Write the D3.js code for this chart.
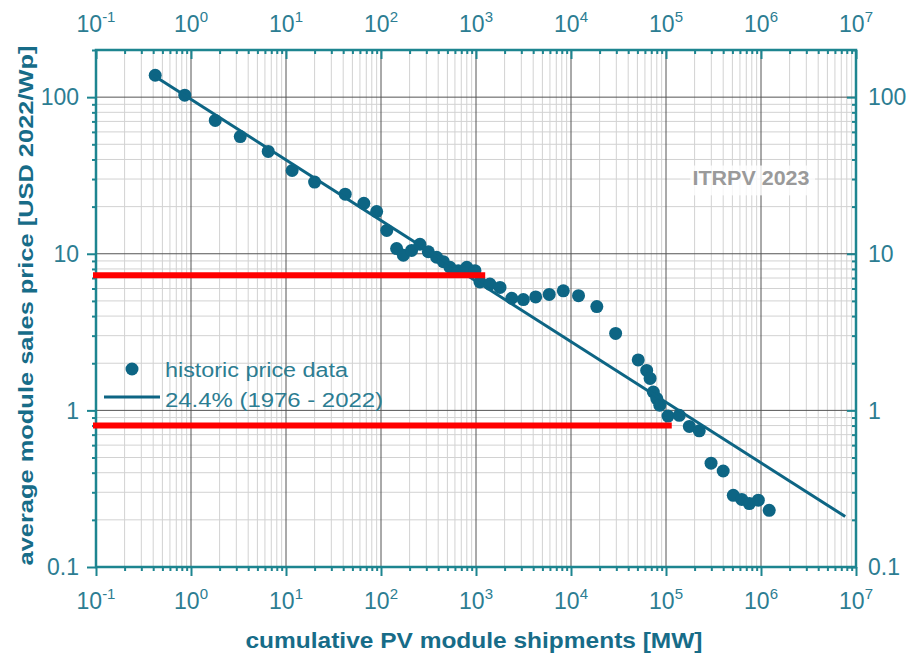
<!DOCTYPE html>
<html>
<head>
<meta charset="utf-8">
<script src="https://cdn.jsdelivr.net/npm/d3@7"></script>
<style>
  html, body { margin: 0; padding: 0; background: #fff; }
  svg { display: block; font-family: "Liberation Sans", Arial, sans-serif; }
</style>
</head>
<body>
<div id="chart"></div>
<script>
// Data
const shipmentsMW = [
  0.42, 0.86, 1.8, 3.3, 6.5, 11.6, 20, 42, 66, 90,
  115, 146, 172, 210, 257, 315, 385, 453, 532, 650,
  800, 975, 1100, 1400, 1790, 2380, 3150, 4250, 5900, 8300,
  12000, 18700, 29500, 51000, 62600, 68000, 73500, 80000, 86000, 105000,
  138000, 176000, 224000, 298000, 400000, 511000, 627000, 754000, 937000, 1220000
];
const pricesUSD = [
  138, 103, 71, 56, 45, 34, 28.7, 24, 21, 18.6,
  14.1, 10.8, 9.8, 10.5, 11.5, 10.3, 9.5, 8.9, 8.2, 7.8,
  8.2, 7.8, 6.6, 6.4, 6.1, 5.2, 5.1, 5.3, 5.5, 5.8,
  5.4, 4.6, 3.1, 2.1, 1.8, 1.6, 1.31, 1.19, 1.08, 0.92,
  0.93, 0.79, 0.74, 0.46, 0.41, 0.287, 0.27, 0.254, 0.267, 0.23
];

// learning curve fit, 24.4 %
const fitShipments = [0.4, 7.7e6];
const fitPrices = [138, 0.21];

// red annotation lines
const redLevels = [7.3, 0.8];
const redStart = [0.093, 0.093];
const redEnd = [1250, 115000];

const xExponents = [-1, 0, 1, 2, 3, 4, 5, 6, 7];
const yTickValues = [0.1, 1, 10, 100];
const yTickLabels = ["0.1", "1", "10", "100"];

const legendLabels = ["historic price data", "24.4% (1976 - 2022)"];
const watermark = "ITRPV 2023";
const xTitle = "cumulative PV module shipments [MW]";
const yTitle = "average module sales price [USD 2022/Wp]";

// Colours
const dotColor = "#0d6584";
const axisColor = "#1d8590";
const labelColor = "#2c7d92";
const titleColor = "#176c88";

// Chart dimensions
const W = 909, H = 653;
const margin = { top: 50, right: 53, bottom: 86, left: 96 };
const width = W - margin.left - margin.right;
const height = H - margin.top - margin.bottom;

const svg = d3.select("#chart").append("svg")
  .attr("width", W)
  .attr("height", H);

const g = svg.append("g")
  .attr("transform", `translate(${margin.left},${margin.top})`);

const x = d3.scaleLog().domain([0.1, 1e7]).range([0, width]);
const y = d3.scaleLog().domain([0.1, 200]).range([height, 0]);

// minor values 2..9 per decade
const xMajor = xExponents.map(e => Math.pow(10, e));
const xMinor = [];
xExponents.slice(0, -1).forEach(e => {
  for (let k = 2; k <= 9; k++) xMinor.push(k * Math.pow(10, e));
});
const yMinor = [];
[-1, 0, 1, 2].forEach(e => {
  for (let k = 2; k <= 9; k++) {
    const v = k * Math.pow(10, e);
    if (v <= 200) yMinor.push(v);
  }
});

// Grid
const grid = g.append("g").attr("class", "grid");
grid.selectAll("line.xminor").data(xMinor).enter().append("line")
  .attr("x1", d => x(d)).attr("x2", d => x(d))
  .attr("y1", 0).attr("y2", height)
  .attr("stroke", "#d2d2d2").attr("stroke-width", 1);
grid.selectAll("line.yminor").data(yMinor).enter().append("line")
  .attr("y1", d => y(d)).attr("y2", d => y(d))
  .attr("x1", 0).attr("x2", width)
  .attr("stroke", "#d2d2d2").attr("stroke-width", 1);
grid.selectAll("line.xmajor").data(xMajor.slice(1, -1)).enter().append("line")
  .attr("x1", d => x(d)).attr("x2", d => x(d))
  .attr("y1", 0).attr("y2", height)
  .attr("stroke", "#555").attr("stroke-width", 1);
grid.selectAll("line.ymajor").data(yTickValues.slice(1)).enter().append("line")
  .attr("y1", d => y(d)).attr("y2", d => y(d))
  .attr("x1", 0).attr("x2", width)
  .attr("stroke", "#555").attr("stroke-width", 1);

// Watermark
const wm = g.append("g");
wm.append("rect")
  .attr("x", x(1.8e5)).attr("y", y(36.6))
  .attr("width", x(3.7e6) - x(1.8e5)).attr("height", y(23.6) - y(36.6))
  .attr("fill", "#fff").attr("opacity", 0.8);
wm.append("text")
  .attr("x", x(7.85e5)).attr("y", y(27.3))
  .attr("text-anchor", "middle")
  .attr("font-size", 21).attr("font-weight", "bold")
  .attr("fill", "#9a9a9a")
  .attr("textLength", 117).attr("lengthAdjust", "spacingAndGlyphs")
  .text(watermark);

// Axes: bottom/left ticks outward, top/right inward
function styleAxis(sel) {
  sel.select(".domain").remove();
  sel.selectAll("line").attr("stroke", axisColor).attr("stroke-width", 2);
  sel.selectAll("text").remove();
}
const axes = [
  { axis: d3.axisBottom, scale: x, major: xMajor, minor: xMinor, t: `translate(0,${height})`, dir: 1 },
  { axis: d3.axisTop, scale: x, major: xMajor, minor: xMinor, t: "translate(0,0)", dir: -1 },
  { axis: d3.axisLeft, scale: y, major: yTickValues, minor: yMinor, t: "translate(0,0)", dir: 1 },
  { axis: d3.axisRight, scale: y, major: yTickValues, minor: yMinor, t: `translate(${width},0)`, dir: -1 }
];
axes.forEach(a => {
  g.append("g").attr("transform", a.t)
    .call(a.axis(a.scale).tickValues(a.minor).tickSize(4 * a.dir).tickFormat(""))
    .call(styleAxis);
  g.append("g").attr("transform", a.t)
    .call(a.axis(a.scale).tickValues(a.major).tickSize(9 * a.dir).tickFormat(""))
    .call(styleAxis);
});
// frame
g.append("rect")
  .attr("width", width).attr("height", height)
  .attr("fill", "none").attr("stroke", axisColor).attr("stroke-width", 2.5);

// X tick labels with superscripts (bottom and top)
[{ yPos: height + 42 }, { yPos: -18 }].forEach(p => {
  const lab = g.append("g").selectAll("text").data(xExponents).enter().append("text")
    .attr("x", e => x(Math.pow(10, e)))
    .attr("y", p.yPos)
    .attr("text-anchor", "middle")
    .attr("font-size", 23)
    .attr("fill", labelColor);
  lab.append("tspan").text("10");
  lab.append("tspan")
    .attr("dy", -10).attr("font-size", 15)
    .text(e => e);
});

// Y tick labels (left and right)
g.append("g").selectAll("text").data(yTickValues).enter().append("text")
  .attr("x", -17).attr("y", d => y(d))
  .attr("dy", "0.36em").attr("text-anchor", "end")
  .attr("font-size", 23).attr("fill", labelColor)
  .text((d, i) => yTickLabels[i]);
g.append("g").selectAll("text").data(yTickValues).enter().append("text")
  .attr("x", width + 12).attr("y", d => y(d))
  .attr("dy", "0.36em").attr("text-anchor", "start")
  .attr("font-size", 23).attr("fill", labelColor)
  .text((d, i) => yTickLabels[i]);

// Axis titles
svg.append("text")
  .attr("x", margin.left + width / 2 - 2)
  .attr("y", H - 5)
  .attr("text-anchor", "middle")
  .attr("font-size", 22).attr("font-weight", "bold")
  .attr("fill", titleColor)
  .attr("textLength", 457).attr("lengthAdjust", "spacingAndGlyphs")
  .text(xTitle);
svg.append("text")
  .attr("transform", `translate(33,${margin.top + height / 2 - 3}) rotate(-90)`)
  .attr("text-anchor", "middle")
  .attr("font-size", 21).attr("font-weight", "bold")
  .attr("fill", titleColor)
  .attr("textLength", 520).attr("lengthAdjust", "spacingAndGlyphs")
  .text(yTitle);

// Data points
const points = shipmentsMW.map((s, i) => ({ s, p: pricesUSD[i] }));
g.append("g").selectAll("circle").data(points).enter().append("circle")
  .attr("cx", d => x(d.s)).attr("cy", d => y(d.p))
  .attr("r", 6.5)
  .attr("fill", dotColor);

// Fit line
const lineGen = d3.line().x(d => x(d[0])).y(d => y(d[1]));
g.append("path")
  .attr("d", lineGen(fitShipments.map((s, i) => [s, fitPrices[i]])))
  .attr("fill", "none")
  .attr("stroke", dotColor)
  .attr("stroke-width", 3);

// Legend
const legend = g.append("g");
legend.append("circle")
  .attr("cx", 36).attr("cy", 319)
  .attr("r", 6.5).attr("fill", dotColor);
legend.append("line")
  .attr("x1", 8).attr("x2", 64)
  .attr("y1", 347).attr("y2", 347)
  .attr("stroke", dotColor).attr("stroke-width", 3);
legend.selectAll("text").data(legendLabels).enter().append("text")
  .attr("x", 69)
  .attr("y", (d, i) => 327 + i * 30)
  .attr("font-size", 20)
  .attr("fill", labelColor)
  .attr("textLength", (d, i) => [183, 218][i])
  .attr("lengthAdjust", "spacingAndGlyphs")
  .text(d => d);

// Red annotation lines
g.append("g").selectAll("line").data(redLevels).enter().append("line")
  .attr("x1", (d, i) => x(redStart[i]))
  .attr("x2", (d, i) => x(redEnd[i]))
  .attr("y1", d => y(d)).attr("y2", d => y(d))
  .attr("stroke", "#ff0000")
  .attr("stroke-width", 6);
</script>
</body>
</html>
